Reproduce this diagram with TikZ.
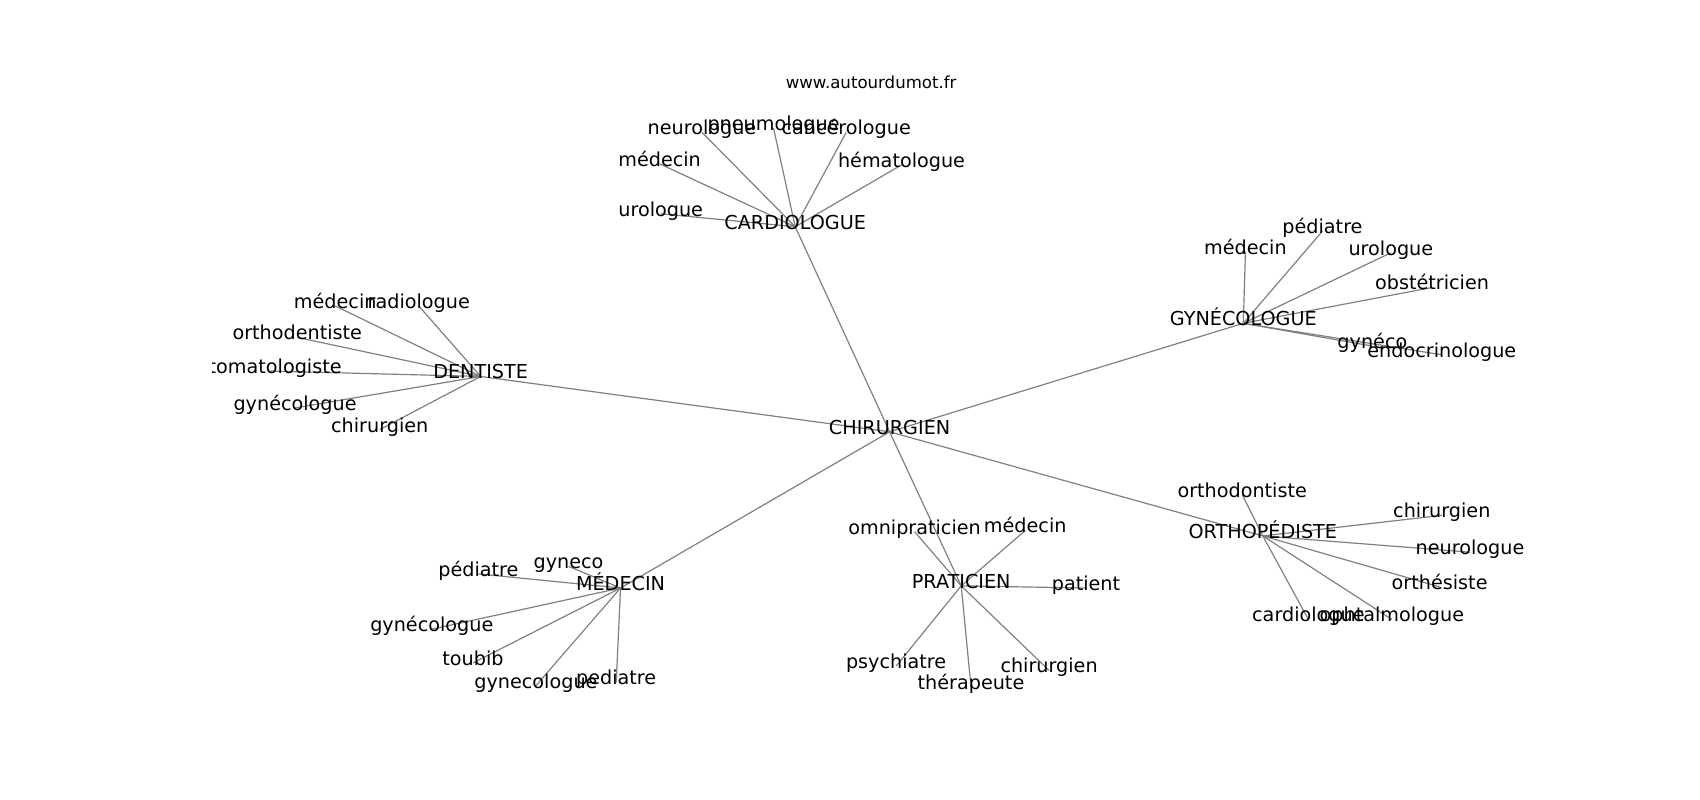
\documentclass[tikz,border=0pt]{standalone}
\usepackage{fontspec}
\setmainfont{DejaVu Sans}
\usepackage{xcolor}
\usetikzlibrary{backgrounds}

\begin{document}
\begin{tikzpicture}[x=0.5425pt,y=-0.5425pt,
            mot/.style={inner sep=0pt,text height=0.73em,text depth=0.49em,
                font=\fontsize{9.6}{11}\selectfont},
            titre/.style={inner sep=0pt,font=\fontsize{8.3}{10}\selectfont},
            lien/.style={draw=gray,line width=0.6pt}]
            \useasboundingbox (0,0) rectangle (1567,737);
            \node[titre] (site) at (803,76) {www.autourdumot.fr};
            \begin{scope}
            \clip (195.9,88.4) rectangle (1410.3,656);
            \node[mot] (chir) at (820,398) {CHIRURGIEN};
            \node[mot] (card) at (733,209) {CARDIOLOGUE};
            \node[mot] (dent) at (443,347) {DENTISTE};
            \node[mot] (gyne) at (1146,298) {GYNÉCOLOGUE};
            \node[mot] (orth) at (1164,494) {ORTHOPÉDISTE};
            \node[mot] (med) at (572,542) {MÉDECIN};
            \node[mot] (prat) at (886,540) {PRATICIEN};
            \node[mot] (card-1) at (647,122) {neurologue};
            \node[mot] (card-2) at (713,118) {pneumologue};
            \node[mot] (card-3) at (780,122) {cancérologue};
            \node[mot] (card-4) at (608,151) {médecin};
            \node[mot] (card-5) at (831,152) {hématologue};
            \node[mot] (card-6) at (609,197) {urologue};
            \node[mot] (dent-1) at (309,282) {médecin};
            \node[mot] (dent-2) at (386,282) {radiologue};
            \node[mot] (dent-3) at (274,311) {orthodentiste};
            \node[mot] (dent-4) at (249,342) {stomatologiste};
            \node[mot] (dent-5) at (272,376) {gynécologue};
            \node[mot] (dent-6) at (350,396) {chirurgien};
            \node[mot] (gyne-1) at (1148,232) {médecin};
            \node[mot] (gyne-2) at (1219,213) {pédiatre};
            \node[mot] (gyne-3) at (1282,233) {urologue};
            \node[mot] (gyne-4) at (1320,265) {obstétricien};
            \node[mot] (gyne-5) at (1265,319) {gynéco};
            \node[mot] (gyne-6) at (1329,327) {endocrinologue};
            \node[mot] (orth-1) at (1145,456) {orthodontiste};
            \node[mot] (orth-2) at (1329,475) {chirurgien};
            \node[mot] (orth-3) at (1355,509) {neurologue};
            \node[mot] (orth-4) at (1327,541) {orthésiste};
            \node[mot] (orth-5) at (1206,571) {cardiologue};
            \node[mot] (orth-6) at (1283,571) {ophtalmologue};
            \node[mot] (med-1) at (524,522) {gyneco};
            \node[mot] (med-2) at (441,529) {pédiatre};
            \node[mot] (med-3) at (398,580) {gynécologue};
            \node[mot] (med-4) at (436,611) {toubib};
            \node[mot] (med-5) at (494,632) {gynecologue};
            \node[mot] (med-6) at (568,629) {pediatre};
            \node[mot] (prat-1) at (843,490) {omnipraticien};
            \node[mot] (prat-2) at (945,489) {médecin};
            \node[mot] (prat-3) at (1001,542) {patient};
            \node[mot] (prat-4) at (826,614) {psychiatre};
            \node[mot] (prat-5) at (895,633) {thérapeute};
            \node[mot] (prat-6) at (967,618) {chirurgien};
            \end{scope}
            \begin{scope}[on background layer]
            \foreach \Hub in {card,dent,gyne,orth,med,prat}
            {
                \draw[lien] (chir.center) -- (\Hub.center);
                \foreach \Hoja in {1,...,6}
                \draw[lien] (\Hub.center) -- (\Hub-\Hoja.center);
            }
            \end{scope}
        \end{tikzpicture}
\end{document}
